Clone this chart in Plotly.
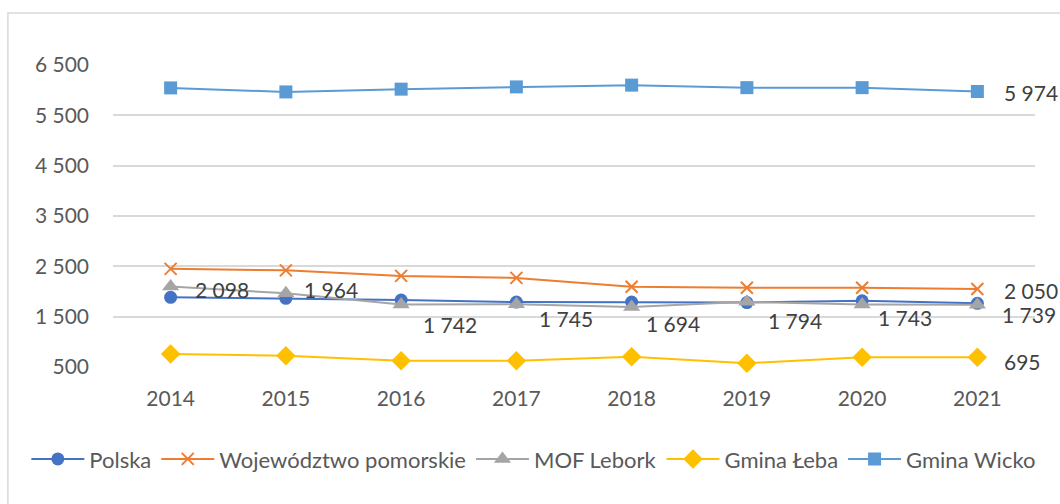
import plotly.graph_objects as go

years = ["2014", "2015", "2016", "2017", "2018", "2019", "2020", "2021"]
polska = [1885, 1865, 1830, 1790, 1790, 1780, 1815, 1765]
pomorskie = [2450, 2420, 2310, 2270, 2095, 2075, 2075, 2050]
mof_lebork = [2098, 1964, 1742, 1745, 1694, 1794, 1743, 1739]
gmina_leba = [760, 725, 625, 625, 705, 575, 692, 695]
gmina_wicko = [6045, 5965, 6020, 6065, 6100, 6050, 6050, 5974]
y_ticks = [500, 1500, 2500, 3500, 4500, 5500, 6500]

FONT = "Lato"
FS = 21
TXT = "#595959"

def fmt(v):
    return f"{v:,}".replace(",", " ")

series = [
    ("Polska", polska, "#4472C4", dict(symbol="circle", size=13)),
    ("Województwo pomorskie", pomorskie, "#ED7D31", dict(symbol="x-thin", size=12, line=dict(width=2, color="#ED7D31"))),
    ("MOF Lebork", mof_lebork, "#A5A5A5", dict(symbol="triangle-up", size=15)),
    ("Gmina Łeba", gmina_leba, "#FFC000", dict(symbol="diamond", size=15)),
    ("Gmina Wicko", gmina_wicko, "#5B9BD5", dict(symbol="square", size=13)),
]

fig = go.Figure()
for name, vals, col, mk in series:
    m = dict(color=col)
    m.update(mk)
    fig.add_trace(go.Scatter(x=years, y=vals, name=name, mode="lines+markers",
                             line=dict(color=col, width=2), marker=m, cliponaxis=False))

# data labels: MOF Lebork (all points) and last values of others
mof_offsets = [(22, -3), (16, 4), (20, -20), (21, -14), (12, -17), (19, -19), (14, -13), (23, -10)]
annotations = []
for i, v in enumerate(mof_lebork):
    dx, dy = mof_offsets[i]
    annotations.append(dict(x=i, y=v, text=fmt(v), xref="x", yref="y", showarrow=False,
                            xanchor="left", yanchor="middle", xshift=dx, yshift=dy,
                            font=dict(family=FONT, size=FS, color="#404040")))
last = len(years) - 1
for vals, dy in [(gmina_wicko, -1), (pomorskie, -2), (gmina_leba, -4)]:
    annotations.append(dict(x=last, y=vals[-1], text=fmt(vals[-1]), xref="x", yref="y",
                            showarrow=False, xanchor="left", yanchor="middle", xshift=25, yshift=dy,
                            font=dict(family=FONT, size=FS, color="#404040")))

fig.update_layout(
    width=1060, height=504,
    margin=dict(l=113, r=25, t=65, b=137),
    paper_bgcolor="white", plot_bgcolor="white",
    font=dict(family=FONT, size=FS, color=TXT),
    showlegend=True,
    legend=dict(orientation="h", x=-0.094, xanchor="left", y=-0.305, yanchor="middle",
                font=dict(family=FONT, size=22, color=TXT), itemwidth=53,
                tracegroupgap=0, bgcolor="rgba(0,0,0,0)"),
    annotations=annotations,
    shapes=[dict(type="rect", xref="paper", yref="paper", x0=-0.114, x1=1.05, y0=-0.6, y1=1.172,
                 line=dict(color="#D9D9D9", width=1.5), layer="below")],
)
fig.update_xaxes(type="category", range=[-0.5, 7.5], showgrid=False, showline=False,
                 zeroline=False, ticks="", ticklabelstandoff=17,
                 tickfont=dict(family=FONT, size=FS, color=TXT))
fig.update_yaxes(range=[500, 6500], tickvals=y_ticks, ticktext=[fmt(v) for v in y_ticks],
                 showgrid=True, gridcolor="#D9D9D9", gridwidth=1.5, zeroline=False,
                 showline=False, ticks="", ticklabelstandoff=23,
                 tickfont=dict(family=FONT, size=FS, color=TXT))

fig.write_html("out.html", config={"displayModeBar": False},
               post_script="document.body.style.margin='0px';")
